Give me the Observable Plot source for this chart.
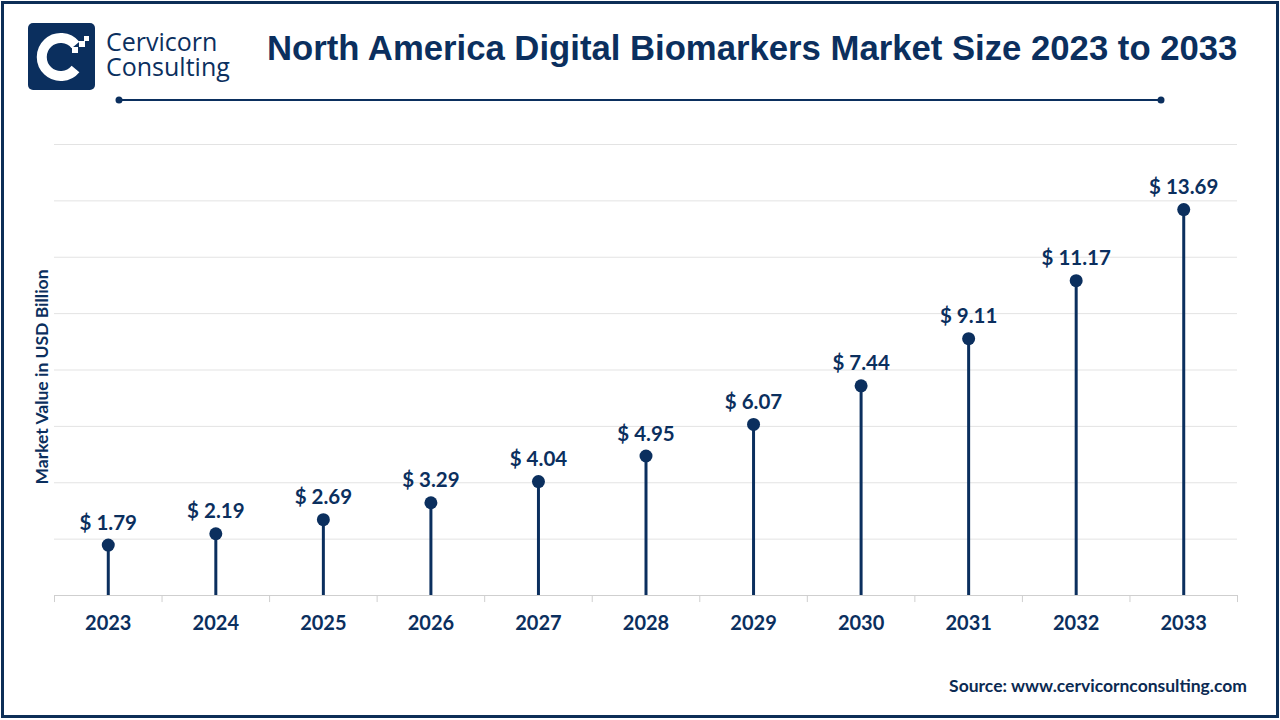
<!DOCTYPE html>
<html>
<head>
<meta charset="utf-8">
<script src="https://cdn.jsdelivr.net/npm/d3@7"></script>
<script src="https://cdn.jsdelivr.net/npm/@observablehq/plot@0.6"></script>
<style>
  html, body { margin: 0; padding: 0; background: #fff; }
  #page { position: relative; width: 1280px; height: 720px; overflow: hidden; background: #fff; }
  #frame { position: absolute; left: 1px; top: 1px; width: 1272px; height: 711px; border: 3px solid #0d2f57; box-sizing: content-box; }
  #logo { position: absolute; left: 0; top: 0; }
  #brand { position: absolute; left: 106px; top: 29px; width: 140px; font-family: "Open Sans", sans-serif; font-size: 25px; line-height: 25px; color: #0b2f5e; }
  #title { position: absolute; left: 267px; top: 28px; font-family: "Liberation Sans", Arial, sans-serif; font-weight: bold; font-size: 34.7px; line-height: 40px; color: #0b2f5e; white-space: nowrap; }
  #ylabel { position: absolute; left: 41px; top: 377px; transform: translate(-50%, -50%) rotate(-90deg); font-family: Lato, sans-serif; font-weight: bold; font-size: 17.5px; color: #0b2f5e; white-space: nowrap; }
  #source { position: absolute; right: 33px; top: 675px; font-family: Lato, sans-serif; font-weight: bold; font-size: 17.5px; color: #0b2a52; white-space: nowrap; }
  #chart { position: absolute; left: 0; top: 120px; }
</style>
</head>
<body>
<div id="page">
  <div id="frame"></div>
  <svg id="logo" width="1280" height="110">
    <rect x="28" y="23" width="67" height="67" rx="5" fill="#0b2f5e"/>
    <path d="M 75.5 45 A 19 19 0 1 0 75.5 69" fill="none" stroke="#fff" stroke-width="10"/>
    <rect x="72" y="47" width="6" height="6" fill="#fff"/>
    <rect x="79" y="41" width="6" height="6" fill="#fff"/>
    <rect x="84" y="36" width="5" height="5" fill="#fff"/>
    <line x1="119" y1="100" x2="1161" y2="100" stroke="#0b2f5e" stroke-width="2"/>
    <circle cx="119" cy="100" r="3.5" fill="#0b2f5e"/>
    <circle cx="1161" cy="100" r="3.5" fill="#0b2f5e"/>
  </svg>
  <div id="brand">Cervicorn Consulting</div>
  <div id="title">North America Digital Biomarkers Market Size 2023 to 2033</div>
  <div id="ylabel">Market Value in USD Billion</div>
  <div id="chart"></div>
  <div id="source">Source: www.cervicornconsulting.com</div>
</div>
<script>
const years = ["2023","2024","2025","2026","2027","2028","2029","2030","2031","2032","2033"];
const values = [1.79, 2.19, 2.69, 3.29, 4.04, 4.95, 6.07, 7.44, 9.11, 11.17, 13.69];
const gridTicks = [2, 4, 6, 8, 10, 12, 14, 16];

const data = years.map((y, i) => ({year: y, value: values[i]}));
const navy = "#0b2f5e";
const W = 1280, H = 520, ML = 54, MR = 43, MT = 24, MB = 45;
const bw = (W - ML - MR) / years.length;

const chart = Plot.plot({
  width: W, height: H,
  marginLeft: ML, marginRight: MR, marginTop: MT, marginBottom: MB,
  style: {background: "transparent", fontFamily: "Lato, sans-serif"},
  x: {type: "band", domain: years, padding: 0, round: false, label: null},
  y: {domain: [0, 16], label: null},
  marks: [
    Plot.gridY(gridTicks, {stroke: "#e3e3e3", strokeOpacity: 1, strokeWidth: 1}),
    Plot.ruleY([0], {stroke: "#cfcfcf", strokeWidth: 1.2}),
    Plot.ruleX(years, {x: d => d, dx: -bw / 2, y1: 0, y2: -0.25, stroke: "#cfcfcf"}),
    Plot.ruleX([years[years.length - 1]], {x: d => d, dx: bw / 2, y1: 0, y2: -0.25, stroke: "#cfcfcf"}),
    Plot.ruleX(data, {x: "year", y1: 0, y2: "value", stroke: navy, strokeWidth: 3}),
    Plot.dot(data, {x: "year", y: "value", r: 6.5, fill: navy, stroke: null}),
    Plot.text(data, {x: "year", y: "value", text: d => "$ " + d.value.toFixed(2), dy: -22, fill: navy, fontSize: 20.5, fontWeight: "bold", fontFamily: "Lato, sans-serif"}),
    Plot.axisX({tickSize: 0, tickPadding: 20, fontSize: 20, fontWeight: "bold", fill: navy, label: null}),
    Plot.axisY({ticks: [], label: null, tickSize: 0})
  ]
});
document.getElementById("chart").appendChild(chart);
</script>
</body>
</html>
